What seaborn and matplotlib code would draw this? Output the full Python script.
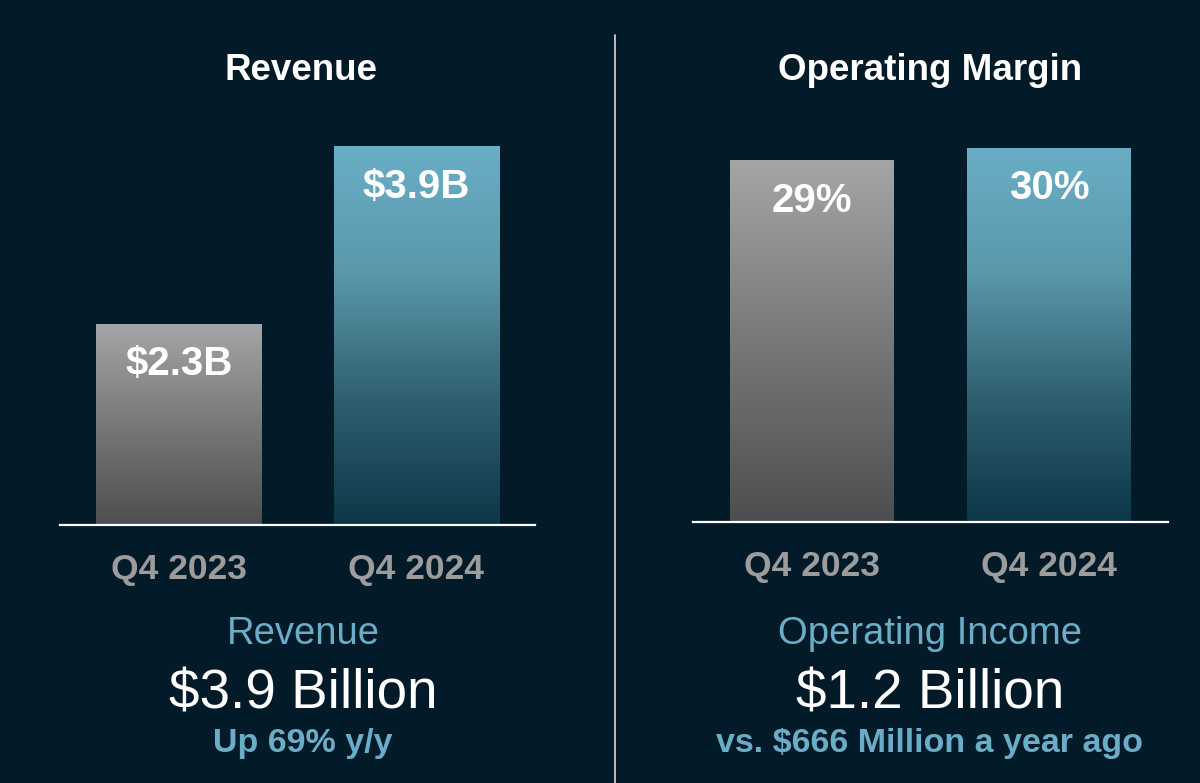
import numpy as np
import matplotlib
matplotlib.use("Agg")
import matplotlib.pyplot as plt
from matplotlib.colors import LinearSegmentedColormap
import seaborn as sns

quarters = ["Q4 2023", "Q4 2024"]
revenue = [2.3, 3.9]          # $B
op_margin = [29, 30]          # %
rev_labels = ["$2.3B", "$3.9B"]
margin_labels = ["29%", "30%"]

BG = "#031a29"
GRAY_TXT = "#9c9c9c"
BLUE_TXT = "#6aadc6"

sns.set_style("dark")
plt.rcParams["font.family"] = ["Liberation Sans", "DejaVu Sans"]

gray_cmap = LinearSegmentedColormap.from_list("g", ["#4e4e50", "#77787a", "#a4a5a7"])
blue_cmap = LinearSegmentedColormap.from_list("b", ["#0c3748", "#2f6070", "#5b98ab", "#69aec6"])
cmaps = [gray_cmap, blue_cmap]

fig = plt.figure(figsize=(12, 7.83), dpi=100, facecolor=BG)
W, H = 1200, 783
ax1 = fig.add_axes([60 / W, 258 / H, 475 / W, 425 / H])
ax2 = fig.add_axes([693 / W, 261 / H, 475 / W, 425 / H])


def draw_panel(ax, vals, labels, ylim, width):
    sns.barplot(x=quarters, y=vals, ax=ax, width=width, color="#888888")
    ax.set_ylim(*ylim)
    ax.set_xlim(-0.5, 1.5)
    grad = np.linspace(0, 1, 256).reshape(-1, 1)
    for bar, cm in zip(ax.patches, cmaps):
        x, y = bar.get_x(), bar.get_y()
        w, h = bar.get_width(), bar.get_height()
        y0 = max(y, ylim[0])
        im = ax.imshow(grad, cmap=cm, origin="lower", aspect="auto",
                       extent=[x, x + w, y0, y + h], zorder=2)
        im.set_clip_path(bar)
        bar.set_facecolor("none")
        bar.set_linewidth(0)
    for bar, lab in zip(ax.patches, labels):
        ax.annotate(lab, (bar.get_x() + bar.get_width() / 2, bar.get_y() + bar.get_height()),
                    xytext=(0, -37), textcoords="offset points", ha="center", va="baseline",
                    color="white", fontsize=29, fontweight="bold", zorder=3)
    ax.set_ylim(*ylim)
    ax.set_xlim(-0.5, 1.5)
    ax.set_facecolor(BG)
    for s in ["top", "left", "right"]:
        ax.spines[s].set_visible(False)
    ax.spines["bottom"].set_color("white")
    ax.spines["bottom"].set_linewidth(1.6)
    ax.set_yticks([])
    ax.set_xlabel("")
    ax.set_ylabel("")
    ax.tick_params(axis="x", length=0, pad=20.5, labelsize=25.5, labelcolor=GRAY_TXT)
    for t in ax.get_xticklabels():
        t.set_fontweight("bold")
    ax.grid(False)


draw_panel(ax1, revenue, rev_labels, (0.493, 4.315), 0.695)
draw_panel(ax2, op_margin, margin_labels, (0, 34.08), 0.69)


def fy(py):
    return (H - py) / H


# panel titles
fig.text(301 / W, fy(80), "Revenue", ha="center", va="baseline",
         color="white", fontsize=26.5, fontweight="bold")
fig.text(930 / W, fy(80), "Operating Margin", ha="center", va="baseline",
         color="white", fontsize=26.5, fontweight="bold")

# summary text blocks
for cx, head, big, sub in [(303, "Revenue", "$3.9 Billion", "Up 69% y/y"),
                           (930, "Operating Income", "$1.2 Billion", "vs. $666 Million a year ago")]:
    fig.text(cx / W, fy(644), head, ha="center", va="baseline", color=BLUE_TXT, fontsize=27.5)
    fig.text(cx / W, fy(708), big, ha="center", va="baseline", color="white", fontsize=39.5)
    fig.text(cx / W, fy(752), sub, ha="center", va="baseline", color=BLUE_TXT,
             fontsize=24.5, fontweight="bold")

# divider
fig.add_artist(plt.Line2D([615 / W, 615 / W], [0, fy(35)], color="#c9c9c9", linewidth=1.3))

fig.savefig("out.png", dpi=100, facecolor=BG)
